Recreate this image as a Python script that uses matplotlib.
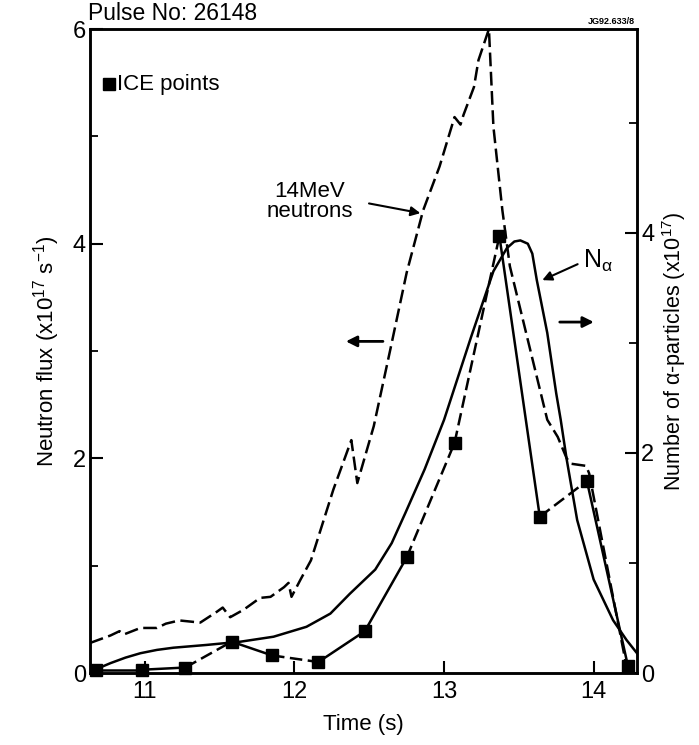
import matplotlib
matplotlib.use('Agg')
import matplotlib.pyplot as plt

plt.rcParams['font.family'] = ['Liberation Sans', 'DejaVu Sans']
plt.rcParams['mathtext.default'] = 'regular'

# 14 MeV neutron flux (left axis, x1e17 /s)
t_neut = [10.633, 10.77, 10.83, 10.86, 10.97, 11.08, 11.14, 11.23, 11.37, 11.48,
          11.52, 11.57, 11.66, 11.77, 11.84, 11.93, 11.96, 11.98, 12.04, 12.11,
          12.26, 12.38, 12.42, 12.53, 12.64, 12.75, 12.86, 12.97, 13.07, 13.11,
          13.13, 13.20, 13.23, 13.30, 13.33, 13.39, 13.44, 13.69, 13.76, 13.82,
          13.85, 13.95, 13.97, 14.06, 14.22, 14.25]
neut = [0.28, 0.35, 0.39, 0.36, 0.42, 0.42, 0.46, 0.49, 0.47, 0.57,
        0.61, 0.52, 0.59, 0.70, 0.71, 0.80, 0.84, 0.71, 0.87, 1.05,
        1.71, 2.17, 1.77, 2.30, 3.01, 3.73, 4.31, 4.72, 5.18, 5.11,
        5.20, 5.46, 5.71, 6.00, 5.09, 4.31, 3.79, 2.36, 2.20, 2.00,
        1.95, 1.93, 1.86, 1.21, 0.06, 0.00]

# number of alpha particles (right axis, x1e17)
t_alpha = [10.633, 10.70, 10.77, 10.87, 10.97, 11.08, 11.19, 11.41, 11.64, 11.86,
           12.08, 12.24, 12.37, 12.54, 12.65, 12.74, 12.87, 13.00, 13.18, 13.33,
           13.42, 13.47, 13.51, 13.56, 13.59, 13.62, 13.69, 13.75, 13.78, 13.82,
           13.89, 14.00, 14.13, 14.22, 14.29]
alpha = [0.00, 0.05, 0.09, 0.14, 0.18, 0.21, 0.23, 0.255, 0.285, 0.33,
         0.42, 0.54, 0.72, 0.94, 1.18, 1.45, 1.85, 2.30, 3.05, 3.65,
         3.86, 3.92, 3.93, 3.90, 3.81, 3.57, 3.09, 2.54, 2.30, 1.94,
         1.39, 0.85, 0.48, 0.30, 0.18]

# ICE points (right axis scale)
t_ice = [10.67, 10.98, 11.27, 11.58, 11.85, 12.16, 12.47, 12.75, 13.07, 13.37, 13.64, 13.955, 14.23]
ice = [0.03, 0.03, 0.05, 0.285, 0.16, 0.10, 0.38, 1.05, 2.09, 3.97, 1.42, 1.745, 0.06]
ice_seg = ['-', '-', '--', '-', '--', '-', '-', '--', '--', '-', '--', '-']

fig = plt.figure(figsize=(6.99, 7.45), dpi=100)
ax = fig.add_axes([0.1288, 0.0966, 0.7825, 0.8644])
ax2 = ax.twinx()

lw = 1.8
ax.plot(t_neut, neut, color='black', lw=lw, dashes=(5.5, 2.2))
ax2.plot(t_alpha, alpha, color='black', lw=lw)
for i, st in enumerate(ice_seg):
    seg = ax2.plot(t_ice[i:i + 2], ice[i:i + 2], color='black', lw=lw)[0]
    if st == '--':
        seg.set_dashes((5, 2.2))
ax2.plot(t_ice, ice, 's', color='black', ms=9, ls='none', clip_on=False)

ax.set_xlim(10.633, 14.29)
ax.set_ylim(0, 6)
ax2.set_ylim(0, 5.85)

ax.set_xticks([11, 12, 13, 14])
ax.set_yticks([0, 2, 4, 6])
ax.set_yticks([1, 3, 5], minor=True)
ax2.set_yticks([0, 2, 4])
ax2.set_yticks([1, 3, 5], minor=True)

for a in (ax, ax2):
    a.tick_params(which='major', direction='in', length=9, width=1.5, labelsize=17, pad=3)
    a.tick_params(which='minor', direction='in', length=6, width=1.3)
    for s in a.spines.values():
        s.set_linewidth(1.8)
ax.tick_params(axis='x', pad=6)

ax.set_xlabel('Time (s)', fontsize=16, labelpad=8)
ax.set_ylabel('Neutron flux (x10$^{17}$ s$^{-1}$)', fontsize=16, labelpad=8)
ax2.set_ylabel('Number of α-particles (x10$^{17}$)', fontsize=15.5, labelpad=4)

fig.text(0.126, 0.966, 'Pulse No: 26148', fontsize=16.5, ha='left', va='bottom')
fig.text(0.908, 0.965, 'JG92.633/8', fontsize=6.5, ha='right', va='bottom', weight='bold')

# legend
ax.plot([0.035], [0.914], 's', color='black', ms=8, transform=ax.transAxes)
ax.text(0.05, 0.914, 'ICE points', transform=ax.transAxes, fontsize=16, va='center')

# annotations
ax.annotate('', xy=(12.86, 4.28), xytext=(12.48, 4.38),
            arrowprops=dict(arrowstyle='-|>', color='black', lw=1.5, mutation_scale=14))
ax.text(12.10, 4.39, '14MeV\nneutrons', fontsize=16, ha='center', va='center', linespacing=0.95)
ax.annotate('', xy=(13.64, 3.65), xytext=(13.91, 3.82),
            arrowprops=dict(arrowstyle='-|>', color='black', lw=1.5, mutation_scale=14))
ax.text(13.93, 3.84, 'N$_{α}$', fontsize=18, ha='left', va='center')
ax.annotate('', xy=(12.325, 3.09), xytext=(12.61, 3.09),
            arrowprops=dict(arrowstyle='-|>', color='black', lw=2, mutation_scale=16))
ax.annotate('', xy=(14.02, 3.27), xytext=(13.755, 3.27),
            arrowprops=dict(arrowstyle='-|>', color='black', lw=2, mutation_scale=16))

fig.savefig('out.png', dpi=100)
